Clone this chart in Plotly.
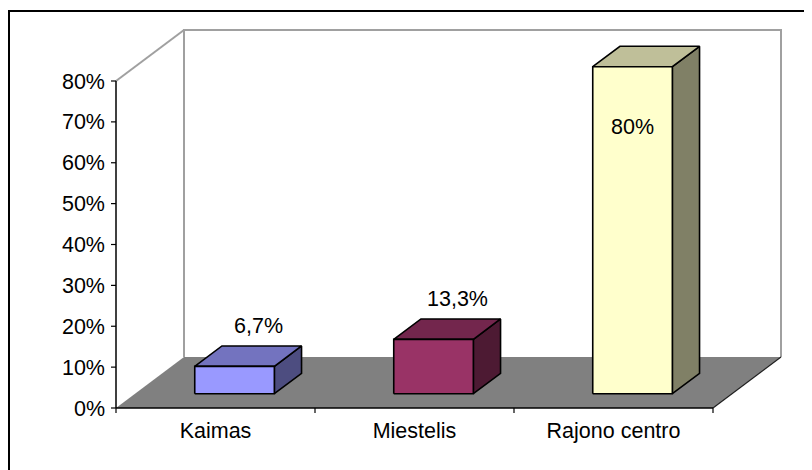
import plotly.graph_objects as go

# ---- data ----
categories = ["Kaimas", "Miestelis", "Rajono centro"]
values = [6.7, 13.3, 80.0]
value_labels = ["6,7%", "13,3%", "80%"]
tick_values = [0, 10, 20, 30, 40, 50, 60, 70, 80]
tick_labels = ["0%", "10%", "20%", "30%", "40%", "50%", "60%", "70%", "80%"]

# ---- styles ----
front_colors = ["#9999FF", "#993366", "#FFFFCC"]
top_colors = ["#7373BF", "#73264D", "#BFBF99"]
side_colors = ["#4D4D80", "#4D1A33", "#808066"]
FONT = dict(family="Liberation Sans, Arial, sans-serif", size=21.5, color="black")

W, H = 812, 470
OFF = 8             # page body offset
PX = 199.0          # pixels per category
PY = 327.0 / 80.0   # pixels per percent
DX = 68.0 / PX      # depth offset (x, category units)
DY = 51.0 / PY      # depth offset (y, percent units)
YMAX = 80.0
PAD_L, PAD_B, PAD_T, PAD_R = 10, 10, 4, 4
D0, D1 = 0.28, 0.68  # bar depth span
BW = 0.40            # bar width (category units)

x_lo = -0.5 - PAD_L / PX
x_hi = len(categories) - 0.5 + DX + PAD_R / PX
y_lo = -PAD_B / PY
y_hi = YMAX + DY + PAD_T / PY

ml = 116 - PAD_L - OFF
mt = 30 - PAD_T - OFF
plot_w = (x_hi - x_lo) * PX
plot_h = (y_hi - y_lo) * PY
mr = W - ml - plot_w
mb = H - mt - plot_h

fig = go.Figure()


def poly(xs, ys, fill, line_color=None, width=0, close=True):
    if close:
        xs = list(xs) + [xs[0]]
        ys = list(ys) + [ys[0]]
    fig.add_trace(go.Scatter(
        x=xs, y=ys, mode="lines", fill="toself" if fill else None,
        fillcolor=fill, line=dict(color=line_color or "rgba(0,0,0,0)", width=width),
        hoverinfo="skip", showlegend=False))


def seg(xs, ys, color, width):
    fig.add_trace(go.Scatter(x=xs, y=ys, mode="lines",
                             line=dict(color=color, width=width),
                             hoverinfo="skip", showlegend=False))


n = len(categories)
L, R = -0.5, n - 0.5
WALL = "#A0A0A0"

# back wall (white) with gray outline
poly([L + DX, R + DX, R + DX, L + DX], [DY, DY, YMAX + DY, YMAX + DY], "white")
seg([L + DX, L + DX, R + DX, R + DX], [DY, YMAX + DY, YMAX + DY, DY], WALL, 2)
# side wall top diagonal
seg([L, L + DX], [YMAX, YMAX + DY], WALL, 2)

# floor
poly([L, R, R + DX, L + DX], [0, 0, DY, DY], "#808080")
seg([R, R + DX], [0, DY], "#202020", 1.2)

# axes lines and ticks
seg([L, L], [0, YMAX], "black", 1.5)
seg([L, R], [0, 0], "black", 1.5)
ytx, yty = [], []
for v in tick_values:
    ytx += [L - 5 / PX, L, None]
    yty += [v, v, None]
seg(ytx, yty, "black", 1.2)
xtx, xty = [], []
for k in range(n + 1):
    xtx += [L + k, L + k, None]
    xty += [0, -5 / PY, None]
seg(xtx, xty, "black", 1.2)

# bars
for i, v in enumerate(values):
    xl, xr = i - BW / 2, i + BW / 2
    ox0, oy0 = D0 * DX, D0 * DY
    ox1, oy1 = D1 * DX, D1 * DY
    # side
    poly([xr + ox0, xr + ox1, xr + ox1, xr + ox0], [oy0, oy1, v + oy1, v + oy0],
         side_colors[i], "black", 1.6)
    # top
    poly([xl + ox0, xr + ox0, xr + ox1, xl + ox1], [v + oy0, v + oy0, v + oy1, v + oy1],
         top_colors[i], "black", 1.6)
    # front
    poly([xl + ox0, xr + ox0, xr + ox0, xl + ox0], [oy0, oy0, v + oy0, v + oy0],
         front_colors[i], "black", 1.6)
    # data label
    if v > 70:
        fig.add_annotation(x=i + ox0, y=v + oy0, text=value_labels[i], showarrow=False,
                           font=FONT, yanchor="middle", yshift=-60)
    else:
        fig.add_annotation(x=i + ox1, y=v + oy1, text=value_labels[i], showarrow=False,
                           font=FONT, yanchor="middle", yshift=20, xshift=-3)

# outer frame (only top and left visible)
fx0 = (9 - OFF - ml) / plot_w
fy1 = (H - mb - (11 - OFF)) / plot_h
fig.add_shape(type="rect", xref="paper", yref="paper",
              x0=fx0, x1=(W + 20 - ml) / plot_w, y0=-(mb + 20) / plot_h, y1=fy1,
              line=dict(color="black", width=2), fillcolor="rgba(0,0,0,0)")

fig.update_layout(
    width=W, height=H,
    margin=dict(l=ml, r=mr, t=mt, b=mb, pad=0),
    paper_bgcolor="white", plot_bgcolor="white",
    font=FONT,
    xaxis=dict(range=[x_lo, x_hi], tickmode="array", tickvals=list(range(n)),
               ticktext=categories, showgrid=False, zeroline=False, showline=False,
               ticks="", ticklabelstandoff=-3, automargin=False, fixedrange=True),
    yaxis=dict(range=[y_lo, y_hi], tickmode="array", tickvals=tick_values,
               ticktext=tick_labels, showgrid=False, zeroline=False, showline=False,
               ticks="", automargin=False, fixedrange=True),
    showlegend=False,
)

fig.write_html("out.html")
